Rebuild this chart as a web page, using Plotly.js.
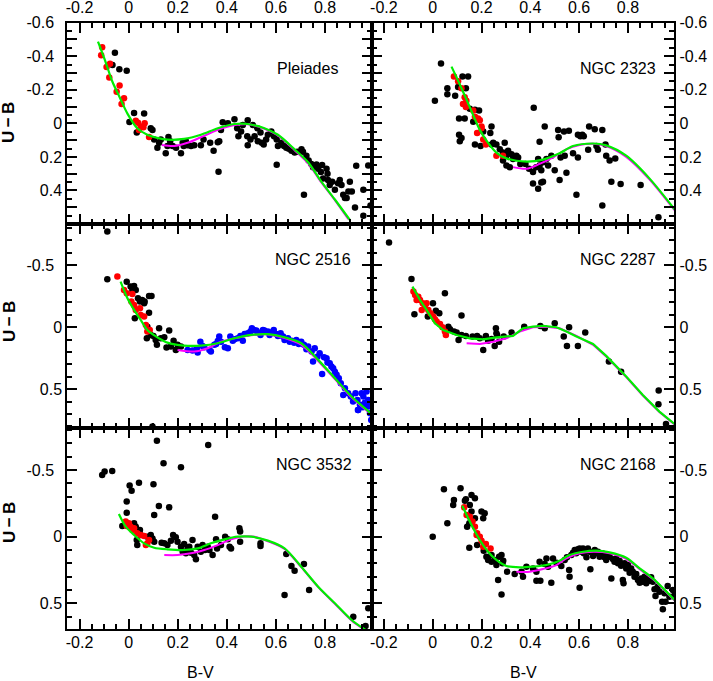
<!DOCTYPE html>
<html>
<head>
<meta charset="utf-8">
<script src="https://cdn.plot.ly/plotly-3.0.1.min.js"></script>
<style>html,body{margin:0;padding:0;background:#fff;}#plot{width:713px;height:681px;}</style>
</head>
<body>
<div id="plot"></div>
<script>
// ---------------- DATA ----------------
const PANEL_NAMES = ["Pleiades", "NGC 2323", "NGC 2516", "NGC 2287", "NGC 3532", "NGC 2168"];
const X_TICKS = [-0.2, 0, 0.2, 0.4, 0.6, 0.8];
const X_TICK_LABELS = ["-0.2", "0", "0.2", "0.4", "0.6", "0.8"];
const Y_TICKS_TOP = [-0.6, -0.5, -0.4, -0.3, -0.2, -0.1, 0, 0.1, 0.2, 0.3, 0.4, 0.5];
const Y_TICK_LABELS_TOP = ["-0.6", "", "-0.4", "", "-0.2", "", "0", "", "0.2", "", "0.4", ""];
const Y_TICKS_LOW = [-0.5, 0, 0.5];
const Y_TICK_LABELS_LOW = ["-0.5", "0", "0.5"];
const X_TITLE = "B-V";
const Y_TITLE = "U\u2009\u2212\u2009B";

// Pleiades
const PLE_RED_BV = [-0.108,-0.112,-0.090,-0.076,-0.079,-0.037,-0.049,-0.019,-0.029,0.029,0.038,0.049,0.060,0.042,0.083,0.065];
const PLE_RED_UB = [-0.454,-0.406,-0.336,-0.356,-0.274,-0.226,-0.189,-0.149,-0.116,-0.015,-0.004,0.019,0.023,0.039,0.081,0.0];
const PLE_BLK_BV = [-0.056,-0.066,-0.038,-0.008,0.022,0.003,0.063,0.033,0.090,0.097,0.104,0.124,0.131,0.117,0.151,0.162,0.158,0.169,0.179,0.193,0.213,0.220,0.224,0.233,0.240,0.254,0.267,0.294,0.305,0.332,0.346,0.363,0.369,0.366,0.383,0.376,0.404,0.431,0.442,0.447,0.458,0.465,0.485,0.483,0.485,0.496,0.506,0.513,0.524,0.526,0.537,0.542,0.550,0.560,0.567,0.581,0.592,0.603,0.603,0.608,0.622,0.633,0.642,0.652,0.663,0.676,0.687,0.704,0.710,0.724,0.733,0.744,0.751,0.714,0.765,0.772,0.783,0.788,0.792,0.806,0.810,0.812,0.819,0.829,0.840,0.853,0.860,0.867,0.874,0.881,0.888,0.895,0.901,0.909,0.922,0.927,0.956,0.956,0.976,0.985];
const PLE_BLK_UB = [-0.421,-0.348,-0.323,-0.313,-0.062,-0.008,-0.058,0.054,0.029,0.039,0.097,0.116,0.097,0.145,0.178,0.081,0.135,0.106,0.135,0.145,0.178,0.116,0.135,0.106,0.131,0.135,0.131,0.131,0.097,0.116,0.164,0.112,0.106,0.288,-0.006,0.039,0.0,-0.025,0.029,0.077,0.048,0.010,-0.019,0.077,0.131,0.097,0.010,0.077,0.029,0.106,0.054,0.116,0.126,0.097,0.068,0.048,0.077,0.097,0.247,0.135,0.116,0.135,0.145,0.151,0.164,0.174,0.170,0.155,0.170,0.193,0.222,0.242,0.261,0.425,0.246,0.271,0.290,0.249,0.329,0.271,0.300,0.338,0.367,0.348,0.396,0.357,0.338,0.367,0.425,0.445,0.445,0.406,0.348,0.406,0.502,0.253,0.396,0.551,0.251,0.49];
const PLE_GRN_BV = [-0.125,-0.095,-0.067,-0.035,-0.005,0.035,0.076,0.120,0.158,0.226,0.294,0.363,0.431,0.485,0.553,0.608,0.676,0.731,0.785,0.840,0.901];
const PLE_GRN_UB = [-0.487,-0.370,-0.251,-0.150,-0.058,0.029,0.068,0.088,0.097,0.093,0.068,0.029,0.004,0.004,0.029,0.068,0.155,0.232,0.348,0.454,0.576];
const PLE_MAG_BV = [0.135,0.185,0.240,0.294,0.363,0.431,0.485,0.553,0.608,0.676,0.731,0.785,0.840,0.895];
const PLE_MAG_UB = [0.129,0.135,0.116,0.083,0.039,0.010,0.006,0.032,0.072,0.160,0.238,0.352,0.458,0.572];

// NGC 2323
const N2323_RED_BV = [0.087,0.104,0.118,0.131,0.124,0.138,0.136,0.166,0.173,0.193,0.200,0.182,0.207,0.218,0.261,0.288,0.200,0.186];
const N2323_RED_UB = [-0.280,-0.251,-0.209,-0.155,-0.116,-0.135,-0.097,-0.077,-0.039,-0.019,0.029,0.058,0.097,0.126,0.193,0.193,0.019,-0.029];
const N2323_BLK_BV = [0.034,0.009,0.060,0.060,0.092,0.104,0.122,0.145,0.136,0.108,0.108,0.111,0.118,0.131,0.152,0.173,0.190,0.166,0.207,0.241,0.236,0.173,0.196,0.241,0.248,0.261,0.275,0.295,0.288,0.302,0.309,0.323,0.329,0.343,0.350,0.288,0.302,0.316,0.359,0.380,0.395,0.411,0.414,0.424,0.432,0.438,0.438,0.445,0.452,0.459,0.466,0.473,0.411,0.432,0.445,0.452,0.486,0.500,0.514,0.516,0.520,0.524,0.538,0.541,0.548,0.558,0.575,0.589,0.595,0.595,0.605,0.613,0.619,0.637,0.641,0.664,0.671,0.677,0.695,0.708,0.711,0.725,0.748,0.732,0.770,0.695,0.852,0.925];
const N2323_BLK_UB = [-0.357,-0.135,-0.209,-0.174,-0.164,-0.216,-0.280,-0.280,-0.209,-0.029,0.068,0.106,0.087,-0.029,-0.087,-0.081,-0.077,-0.010,0.048,0.019,0.058,0.126,0.135,0.126,0.116,0.126,0.155,0.116,0.174,0.193,0.164,0.184,0.213,0.193,0.203,0.222,0.251,0.261,0.242,0.242,0.271,0.290,-0.093,0.261,0.213,0.110,0.251,0.280,0.232,0.019,0.213,0.251,0.358,0.390,0.352,0.348,0.193,0.280,0.039,0.083,0.338,0.203,0.048,0.193,0.294,0.044,0.178,0.425,0.203,0.068,0.077,0.068,0.077,0.158,0.019,0.035,0.135,0.158,0.039,0.126,0.193,0.222,0.209,0.348,0.361,0.489,0.367,0.560];
const N2323_GRN_BV = [0.077,0.111,0.152,0.193,0.227,0.261,0.302,0.384,0.452,0.520,0.575,0.657,0.711,0.793,0.888,0.991];
const N2323_GRN_UB = [-0.338,-0.232,-0.097,0.039,0.116,0.174,0.209,0.228,0.216,0.178,0.135,0.120,0.131,0.193,0.328,0.512];
const N2323_MAG_BV = [0.329,0.384,0.438,0.493,0.547,0.602,0.657,0.711,0.793,0.888,0.991];
const N2323_MAG_UB = [0.261,0.271,0.242,0.203,0.155,0.129,0.122,0.135,0.200,0.334,0.518];

// NGC 2516
const N2516_RED_BV = [-0.046,-0.019,-0.008,0.015,0.011,0.022,0.029,0.046,0.049,0.063,0.070,0.076,0.086];
const N2516_RED_UB = [-0.409,-0.301,-0.274,-0.269,-0.207,-0.180,-0.140,-0.153,-0.099,-0.086,-0.019,0.035,0.022];
const N2516_BLK_BV = [-0.087,-0.087,-0.008,0.008,0.015,0.022,0.029,0.025,0.038,0.046,0.055,0.065,0.083,0.093,0.083,0.063,0.074,0.076,0.090,0.101,0.110,0.115,0.124,0.131,0.145,0.154,0.165,0.172,0.183,0.192,0.199,0.213,0.097];
const N2516_BLK_UB = [-0.772,-0.387,-0.368,-0.328,-0.301,-0.333,-0.301,-0.073,-0.234,-0.207,-0.220,-0.207,-0.253,-0.253,-0.118,-0.194,0.089,-0.005,0.062,0.070,0.102,0.142,0.008,0.089,0.081,0.164,0.027,0.156,0.108,0.183,0.142,0.156,0.800];
const N2516_BLU_BV = [0.240,0.260,0.278,0.281,0.292,0.301,0.308,0.329,0.335,0.349,0.356,0.363,0.369,0.376,0.392,0.404,0.414,0.424,0.431,0.444,0.455,0.465,0.472,0.485,0.496,0.502,0.510,0.520,0.526,0.537,0.547,0.553,0.567,0.574,0.583,0.591,0.601,0.608,0.619,0.629,0.635,0.649,0.656,0.663,0.674,0.683,0.693,0.703,0.714,0.724,0.731,0.745,0.751,0.758,0.769,0.778,0.788,0.796,0.806,0.810,0.819,0.826,0.833,0.840,0.847,0.856,0.864,0.874,0.881,0.894,0.905,0.914,0.924,0.932,0.935,0.942,0.949,0.956,0.962,0.969,0.976,0.976,0.983,0.934,0.954,0.972,0.988];
const N2516_BLU_UB = [0.183,0.188,0.169,0.204,0.116,0.151,0.161,0.183,0.196,0.142,0.134,0.110,0.075,0.116,0.161,0.169,0.075,0.108,0.097,0.089,0.070,0.108,0.054,0.048,0.035,0.008,0.022,0.027,0.043,0.062,0.022,0.027,0.035,0.062,0.043,0.022,0.054,0.070,0.048,0.075,0.102,0.089,0.116,0.108,0.124,0.102,0.134,0.116,0.142,0.177,0.156,0.196,0.277,0.169,0.237,0.210,0.376,0.242,0.250,0.285,0.290,0.317,0.331,0.358,0.384,0.411,0.452,0.546,0.492,0.532,0.559,0.599,0.532,0.586,0.667,0.626,0.532,0.559,0.608,0.519,0.586,0.640,0.694,0.667,0.645,0.619,0.748];
const N2516_GRN_BV = [-0.033,-0.005,0.022,0.049,0.076,0.117,0.158,0.226,0.294,0.363,0.431,0.499,0.567,0.635,0.703,0.772,0.840,0.908,0.990];
const N2516_GRN_UB = [-0.368,-0.234,-0.140,-0.059,0.022,0.081,0.124,0.148,0.148,0.129,0.089,0.062,0.056,0.081,0.129,0.263,0.411,0.559,0.700];
const N2516_MAG_BV = [0.199,0.267,0.322,0.376,0.431,0.499,0.567,0.635,0.703,0.772,0.840,0.908,0.990];
const N2516_MAG_UB = [0.183,0.196,0.169,0.116,0.089,0.064,0.058,0.086,0.140,0.272,0.418,0.565,0.706];

// NGC 2287
const N2287_RED_BV = [-0.079,-0.072,-0.059,-0.052,-0.041,-0.032,-0.025,-0.018,-0.009,0.002,0.009,0.016,0.030,0.040,0.050,0.054,-0.066,-0.045];
const N2287_RED_UB = [-0.288,-0.261,-0.247,-0.220,-0.194,-0.167,-0.194,-0.140,-0.113,-0.086,-0.065,-0.046,-0.027,0.0,0.035,0.062,-0.220,-0.140];
const N2287_BLK_BV = [-0.179,-0.087,-0.075,0.001,0.013,0.027,-0.020,0.050,0.118,0.064,0.071,0.087,0.098,0.106,0.118,0.136,0.163,0.182,0.193,0.207,0.218,0.227,0.241,0.254,0.259,0.261,0.264,0.272,0.291,0.323,0.375,0.441,0.459,0.500,0.537,0.550,0.559,0.595,0.625,0.722,0.772,0.926,0.925,0.956];
const N2287_BLK_UB = [-0.683,-0.390,-0.105,-0.194,-0.134,-0.113,-0.086,-0.274,-0.094,-0.005,0.016,0.035,0.043,0.102,0.062,0.070,0.075,0.070,0.089,0.183,0.070,0.108,0.094,0.151,0.008,0.048,0.062,0.116,0.075,0.043,-0.005,-0.011,0.008,-0.032,0.075,0.151,0.0,0.151,0.043,0.277,0.358,0.511,0.621,0.780];
const N2287_GRN_BV = [-0.083,-0.052,-0.025,0.009,0.043,0.098,0.152,0.207,0.261,0.329,0.370,0.411,0.452,0.507,0.548,0.589,0.657,0.711,0.793,0.861,0.929,0.991];
const N2287_GRN_UB = [-0.328,-0.220,-0.140,-0.032,0.022,0.062,0.089,0.097,0.081,0.070,0.008,-0.005,-0.011,0.0,0.035,0.075,0.134,0.231,0.398,0.546,0.680,0.780];
const N2287_MAG_BV = [0.139,0.193,0.248,0.302,0.357,0.411,0.466,0.520,0.589,0.657,0.711,0.793,0.861,0.929,0.991];
const N2287_MAG_UB = [0.129,0.134,0.116,0.089,0.035,0.0,-0.005,0.008,0.070,0.142,0.236,0.402,0.550,0.684,0.784];

// NGC 3532
const N3532_RED_BV = [-0.012,0.001,0.008,0.015,0.022,0.035,0.049,0.063,0.070,0.076,0.083,-0.008];
const N3532_RED_UB = [-0.113,-0.100,-0.075,-0.050,-0.063,-0.025,-0.013,-0.005,0.063,0.050,0.025,-0.080];
const N3532_BLK_BV = [-0.108,-0.098,-0.067,-0.026,-0.008,-0.008,0.004,0.012,0.042,0.022,0.029,0.046,0.033,0.035,0.049,0.076,0.090,0.097,0.104,0.101,0.104,0.123,0.115,0.142,0.213,0.324,0.165,0.181,0.192,0.199,0.134,0.145,0.158,0.172,0.213,0.220,0.226,0.233,0.240,0.247,0.254,0.260,0.267,0.274,0.281,0.294,0.301,0.311,0.322,0.329,0.342,0.352,0.356,0.360,0.376,0.393,0.404,0.411,0.417,0.451,0.454,0.454,0.537,0.537,0.642,0.663,0.676,0.635,0.714,0.735,0.915,0.965,0.976];
const N3532_BLK_UB = [-0.463,-0.488,-0.493,-0.080,-0.263,-0.180,-0.383,-0.345,-0.405,-0.100,-0.075,-0.050,0.025,0.063,-0.013,0.0,-0.013,0.013,0.038,-0.393,-0.163,-0.230,-0.720,-0.550,-0.520,-0.688,-0.220,-0.013,0.005,0.038,0.045,0.050,0.063,0.030,0.075,0.113,0.055,0.125,0.088,0.075,0.120,0.025,0.138,0.170,0.075,0.113,0.063,0.100,0.075,0.100,0.138,-0.150,0.020,0.088,0.063,0.0,0.020,0.075,0.088,-0.063,-0.038,0.038,0.050,0.070,0.130,0.220,0.255,0.438,0.205,0.400,0.600,0.670,0.538];
const N3532_GRN_BV = [-0.040,-0.012,0.022,0.063,0.104,0.158,0.226,0.281,0.335,0.390,0.444,0.499,0.567,0.635,0.703,0.772,0.840,0.908,0.965];
const N3532_GRN_UB = [-0.170,-0.075,-0.013,0.050,0.083,0.095,0.100,0.088,0.050,0.020,0.0,0.0,0.030,0.088,0.225,0.375,0.500,0.625,0.700];
const N3532_MAG_BV = [0.145,0.199,0.254,0.308,0.363,0.417,0.458,0.513,0.567,0.635,0.703,0.772,0.840,0.908,0.965];
const N3532_MAG_UB = [0.138,0.138,0.125,0.100,0.063,0.020,0.0,0.0,0.034,0.092,0.229,0.379,0.504,0.629,0.704];

// NGC 2168
const N2168_RED_BV = [0.129,0.139,0.152,0.163,0.173,0.180,0.193,0.200,0.207,0.218,0.237,0.182];
const N2168_RED_UB = [-0.220,-0.163,-0.150,-0.113,-0.075,-0.013,0.0,0.030,0.075,0.055,0.088,-0.025];
const N2168_BLK_BV = [0.0,0.046,0.060,0.087,0.084,0.114,0.132,0.136,0.152,0.159,0.173,0.159,0.173,0.150,0.141,0.150,0.182,0.200,0.207,0.213,0.209,0.220,0.227,0.241,0.241,0.254,0.261,0.272,0.282,0.286,0.289,0.305,0.268,0.282,0.336,0.364,0.370,0.384,0.411,0.425,0.425,0.441,0.438,0.459,0.466,0.473,0.486,0.493,0.507,0.527,0.541,0.550,0.559,0.561,0.568,0.575,0.582,0.588,0.595,0.602,0.602,0.609,0.616,0.619,0.627,0.630,0.636,0.643,0.646,0.657,0.664,0.671,0.677,0.684,0.695,0.704,0.711,0.718,0.725,0.732,0.739,0.745,0.752,0.759,0.766,0.772,0.779,0.782,0.786,0.793,0.800,0.807,0.813,0.820,0.827,0.834,0.841,0.848,0.854,0.861,0.868,0.875,0.882,0.889,0.895,0.902,0.909,0.913,0.922,0.929,0.940,0.943,0.950,0.954,0.963,0.970,0.984,0.991];
const N2168_BLK_UB = [0.0,-0.355,-0.100,-0.275,-0.238,-0.363,-0.270,-0.280,-0.238,-0.313,-0.288,-0.188,-0.138,-0.100,-0.075,0.083,0.063,-0.188,-0.138,-0.175,0.105,0.150,0.175,0.188,0.138,0.175,0.213,0.150,0.138,0.200,0.180,0.263,0.325,0.433,0.280,0.263,0.300,0.225,0.238,0.263,0.330,0.330,0.188,0.205,0.163,0.225,0.345,0.163,0.195,0.220,0.175,0.155,0.250,0.300,0.138,0.120,0.100,0.125,0.095,0.088,0.383,0.113,0.088,0.125,0.105,0.155,0.088,0.113,0.245,0.145,0.100,0.125,0.113,0.150,0.125,0.155,0.175,0.138,0.150,0.313,0.170,0.188,0.163,0.200,0.183,0.218,0.325,0.350,0.200,0.238,0.213,0.270,0.238,0.263,0.300,0.280,0.325,0.345,0.313,0.338,0.300,0.350,0.320,0.330,0.305,0.338,0.395,0.445,0.375,0.413,0.488,0.545,0.425,0.488,0.370,0.450,0.400,0.438];
const N2168_GRN_BV = [0.121,0.139,0.166,0.193,0.227,0.261,0.302,0.357,0.411,0.466,0.520,0.561,0.616,0.671,0.725,0.793,0.848,0.902,0.991];
const N2168_GRN_UB = [-0.233,-0.163,-0.063,0.025,0.113,0.175,0.220,0.230,0.225,0.213,0.180,0.138,0.113,0.105,0.118,0.158,0.238,0.313,0.475];
const N2168_MAG_BV = [0.343,0.398,0.452,0.507,0.548,0.602,0.657,0.725,0.793,0.848,0.902,0.991];
const N2168_MAG_UB = [0.263,0.263,0.243,0.213,0.163,0.125,0.113,0.124,0.166,0.244,0.318,0.480];

// ---------------- LAYOUT (pixel geometry) ----------------
const W = 713, H = 681;
const colX = [[67.3, 371.7], [371.7, 674.3]];
const rowY = [[22.7, 224.0], [224.0, 428.3], [428.3, 629.3]];
const yRanges = [[0.6, -0.6], [0.815, -0.833], [0.695, -0.813]];
const FONT = "Liberation Sans, Arial, Helvetica, sans-serif";

const panels = [
  {red:[PLE_RED_BV,PLE_RED_UB], blk:[PLE_BLK_BV,PLE_BLK_UB], grn:[PLE_GRN_BV,PLE_GRN_UB], mag:[PLE_MAG_BV,PLE_MAG_UB]},
  {red:[N2323_RED_BV,N2323_RED_UB], blk:[N2323_BLK_BV,N2323_BLK_UB], grn:[N2323_GRN_BV,N2323_GRN_UB], mag:[N2323_MAG_BV,N2323_MAG_UB]},
  {red:[N2516_RED_BV,N2516_RED_UB], blk:[N2516_BLK_BV,N2516_BLK_UB], blu:[N2516_BLU_BV,N2516_BLU_UB], grn:[N2516_GRN_BV,N2516_GRN_UB], mag:[N2516_MAG_BV,N2516_MAG_UB]},
  {red:[N2287_RED_BV,N2287_RED_UB], blk:[N2287_BLK_BV,N2287_BLK_UB], grn:[N2287_GRN_BV,N2287_GRN_UB], mag:[N2287_MAG_BV,N2287_MAG_UB], linear:true},
  {red:[N3532_RED_BV,N3532_RED_UB], blk:[N3532_BLK_BV,N3532_BLK_UB], grn:[N3532_GRN_BV,N3532_GRN_UB], mag:[N3532_MAG_BV,N3532_MAG_UB]},
  {red:[N2168_RED_BV,N2168_RED_UB], blk:[N2168_BLK_BV,N2168_BLK_UB], grn:[N2168_GRN_BV,N2168_GRN_UB], mag:[N2168_MAG_BV,N2168_MAG_UB]}
];

const traces = [];
const layout = {
  width: W, height: H,
  margin: {l:0, r:0, t:0, b:0},
  paper_bgcolor: "#fff", plot_bgcolor: "#fff",
  showlegend: false,
  font: {family: FONT, size: 16, color: "#000"},
  annotations: []
};

panels.forEach((p, i) => {
  const row = Math.floor(i / 2), col = i % 2;
  const n = i + 1;
  const xa = "x" + (n === 1 ? "" : n), ya = "y" + (n === 1 ? "" : n);
  const xk = "xaxis" + (n === 1 ? "" : n), yk = "yaxis" + (n === 1 ? "" : n);
  const common = {
    showline: true, linecolor: "#000", linewidth: 2, mirror: "allticks",
    ticks: "inside", ticklen: 10, tickwidth: 2, tickcolor: "#000",
    showgrid: false, zeroline: false,
    tickfont: {family: FONT, size: 16, color: "#000"}
  };
  layout[xk] = Object.assign({}, common, {
    domain: [colX[col][0] / W, colX[col][1] / W],
    anchor: ya, range: [-0.25, 0.99],
    tickmode: "array", tickvals: X_TICKS, ticktext: X_TICK_LABELS,
    side: row === 0 ? "top" : "bottom",
    showticklabels: row !== 1,
    ticklabelstandoff: row === 0 ? 1 : -3,
    minor: {tick0: 0, dtick: 0.05, ticks: "inside", ticklen: 5, tickwidth: 2, tickcolor: "#000", showgrid: false}
  });
  const yt = row === 0 ? Y_TICKS_TOP : Y_TICKS_LOW;
  const ytl = (row === 0 ? Y_TICK_LABELS_TOP : Y_TICK_LABELS_LOW).map(s => (col === 0 && s.charAt(0) === "-") ? s + "\u2002" : s);
  layout[yk] = Object.assign({}, common, {
    domain: [1 - rowY[row][1] / H, 1 - rowY[row][0] / H],
    anchor: xa, range: yRanges[row],
    tickmode: "array", tickvals: yt, ticktext: ytl,
    side: col === 0 ? "left" : "right",
    minor: {tick0: 0, dtick: row === 0 ? 0.05 : 0.1, ticks: "inside", ticklen: 5, tickwidth: 2, tickcolor: "#000", showgrid: false}
  });

  const base = {xaxis: xa, yaxis: ya, hoverinfo: "skip", cliponaxis: true};
  const shape = p.linear ? "linear" : "spline";
  traces.push(Object.assign({}, base, {type: "scatter", mode: "markers", x: p.blk[0], y: p.blk[1], marker: {color: "#000", size: 6.5}}));
  if (p.blu) traces.push(Object.assign({}, base, {type: "scatter", mode: "markers", x: p.blu[0], y: p.blu[1], marker: {color: "#0000ff", size: 6.5}}));
  traces.push(Object.assign({}, base, {type: "scatter", mode: "markers", x: p.red[0], y: p.red[1], marker: {color: "#ff0000", size: 6.5}}));
  traces.push(Object.assign({}, base, {type: "scatter", mode: "lines", x: p.mag[0], y: p.mag[1], line: {color: "#ff00ff", width: 2, shape: shape, smoothing: 0.8}}));
  traces.push(Object.assign({}, base, {type: "scatter", mode: "lines", x: p.grn[0], y: p.grn[1], line: {color: "#00ee00", width: 2.2, shape: shape, smoothing: 0.8}}));

  const lblRight = [340, 657.7, 353.3, 657.7, 354, 658.3][i];
  const lblY = [68, 68, 259.3, 259.3, 464.3, 464.3][i];
  layout.annotations.push({text: PANEL_NAMES[i], xref: "paper", yref: "paper", x: lblRight / W, y: 1 - lblY / H,
    xanchor: "right", yanchor: "middle", showarrow: false, font: {family: FONT, size: 16, color: "#000"}});
});

[123, 322, 523].forEach(py => {
  layout.annotations.push({text: "<b>" + Y_TITLE + "</b>", xref: "paper", yref: "paper", x: 9 / W, y: 1 - py / H,
    xanchor: "center", yanchor: "middle", textangle: -90, showarrow: false, font: {family: FONT, size: 17, color: "#000"}});
});
[200.7, 523.3].forEach(px => {
  layout.annotations.push({text: X_TITLE, xref: "paper", yref: "paper", x: px / W, y: 1 - 672 / H,
    xanchor: "center", yanchor: "middle", showarrow: false, font: {family: FONT, size: 16, color: "#000"}});
});

Plotly.newPlot("plot", traces, layout, {staticPlot: true, displayModeBar: false});
</script>
</body>
</html>
